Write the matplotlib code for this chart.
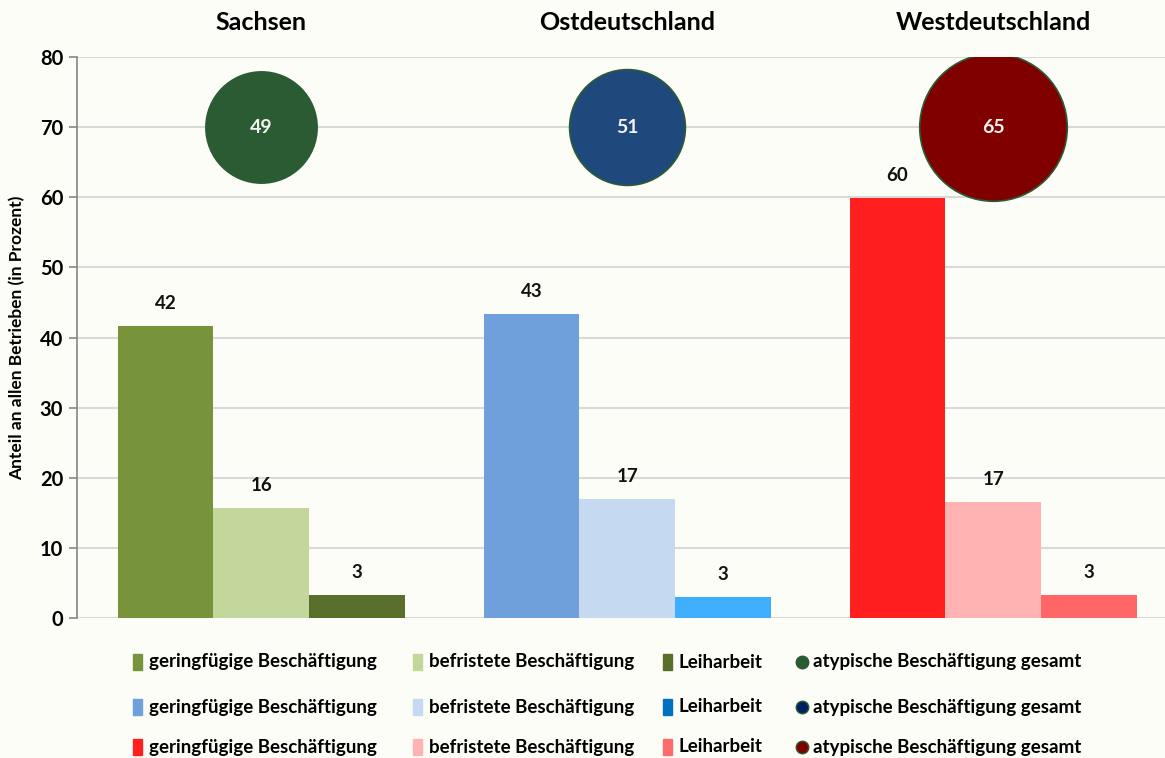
import numpy as np
import matplotlib.pyplot as plt
from matplotlib.patches import Rectangle
from matplotlib.lines import Line2D

plt.rcParams['font.family'] = ['Lato', 'DejaVu Sans']
plt.rcParams['font.weight'] = 'bold'

# Daten
regionen = ['Sachsen', 'Ostdeutschland', 'Westdeutschland']
geringfuegig = [41.6, 43.3, 59.9]
befristet = [15.7, 17.0, 16.5]
leiharbeit = [3.3, 3.0, 3.3]
gesamt = [49, 51, 65]
gesamt_y = [70, 70, 70]

legende_texte = ['geringfügige Beschäftigung', 'befristete Beschäftigung',
                 'Leiharbeit', 'atypische Beschäftigung gesamt']

# Farben je Region: geringfügig, befristet, Leiharbeit, gesamt
farben = [
    ['#77933C', '#C3D69B', '#5A6E2C', '#2B5B33'],
    ['#6FA0DB', '#C5D9F1', '#3FAEFF', '#1F497D'],
    ['#FF1F1F', '#FFB3B3', '#FF6666', '#800000'],
]
legende_farben = [
    ['#77933C', '#C3D69B', '#5A6E2C', '#2B5B33'],
    ['#6FA0DB', '#C5D9F1', '#0070C0', '#002060'],
    ['#FF1F1F', '#FFB3B3', '#FF6B6B', '#800000'],
]

bg = '#FDFDF7'
fig = plt.figure(figsize=(11.65, 7.58), dpi=100, facecolor=bg)
ax = fig.add_axes([0.066, 0.1847, 0.934, 0.740])
ax.set_facecolor(bg)

x = np.arange(len(regionen))
w = 0.262

def rundung(v):
    return int(np.floor(v + 0.5))

for i in range(len(regionen)):
    werte = [geringfuegig[i], befristet[i], leiharbeit[i]]
    for j, v in enumerate(werte):
        xp = x[i] + (j - 1) * w
        ax.bar(xp, v, width=w, color=farben[i][j], zorder=3)
        ax.text(xp, v + 2.0, str(rundung(v)), ha='center', va='bottom',
                fontsize=13.5, fontweight='bold', color='#111111')
    # Blase
    d_pt = 2.27 * gesamt[i] * 0.72
    ax.scatter(x[i], gesamt_y[i], s=d_pt ** 2, color=farben[i][3],
               edgecolors='#2B5B33', linewidths=1.2, zorder=4)
    ax.text(x[i], gesamt_y[i], str(gesamt[i]), ha='center', va='center',
            fontsize=14, fontweight='bold', color='#F2F2F2', zorder=5)
    ax.text(x[i], 1.042, regionen[i], transform=ax.get_xaxis_transform(),
            ha='center', va='bottom', fontsize=18, fontweight='bold')

ax.set_xlim(-0.504, 2.469)
ax.set_ylim(0, 80)
ax.set_yticks(range(0, 81, 10))
ax.set_xticks([])
ax.grid(axis='y', color='#D9D9D9', linewidth=1.5, zorder=0)
for s in ['top', 'right', 'bottom']:
    ax.spines[s].set_visible(False)
ax.spines['left'].set_color('#868686')
ax.spines['left'].set_linewidth(1.2)
ax.tick_params(axis='y', length=6, width=1.2, color='#868686', labelsize=14.5, pad=4)
for lbl in ax.get_yticklabels():
    lbl.set_fontweight('bold')
ax.set_ylabel('Anteil an allen Betrieben (in Prozent)', fontsize=12.5,
              fontweight='bold', labelpad=10)

# Legende (drei Zeilen)
spalten_x = [133, 413, 663, 797]
zeilen_y = [662, 707, 747]
W, H = 1165, 758
for r in range(3):
    for c in range(4):
        xm = spalten_x[c] / W
        ym = 1 - zeilen_y[r] / H
        if c < 3:
            fig.patches.append(Rectangle((xm, ym - 8 / H), 9 / W, 16 / H,
                                         transform=fig.transFigure,
                                         color=legende_farben[r][c]))
        else:
            fig.lines.append(Line2D([xm + 5 / W], [ym], marker='o', markersize=9,
                                    color=legende_farben[r][c],
                                    markeredgecolor='#2B5B33',
                                    transform=fig.transFigure))
        fig.text(xm + 16 / W, ym, legende_texte[c], ha='left', va='center',
                 fontsize=13.5, fontweight='bold')

fig.savefig('out.png', dpi=100, facecolor=bg)
